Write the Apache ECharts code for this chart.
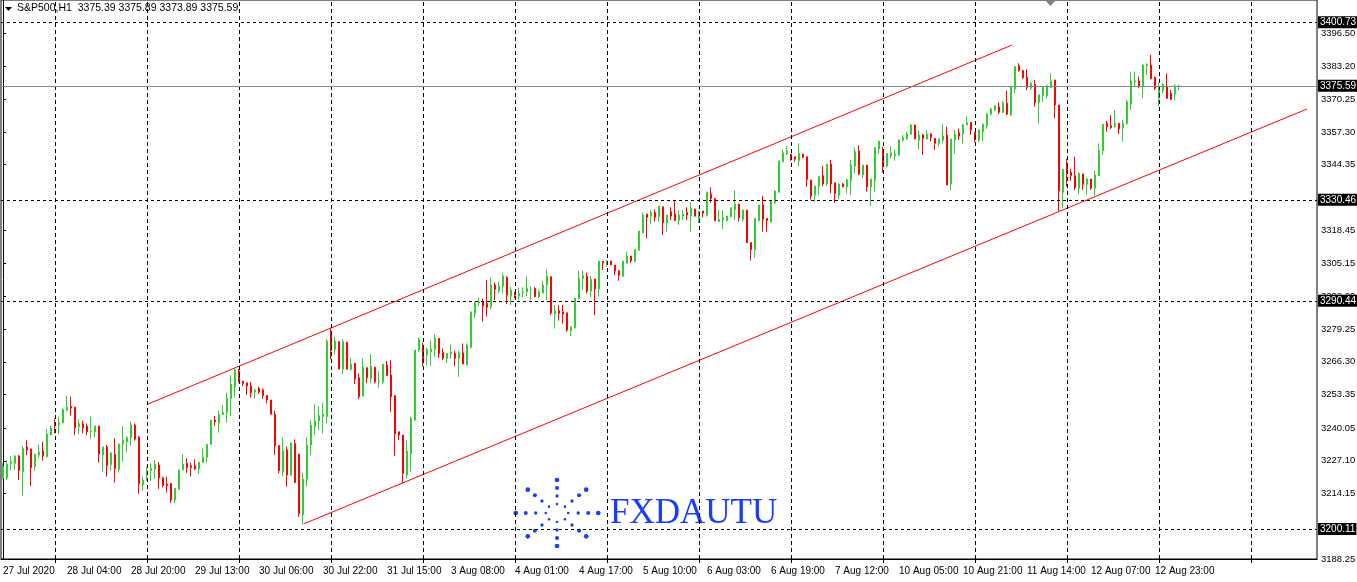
<!DOCTYPE html>
<html><head><meta charset="utf-8">
<script src="https://cdn.jsdelivr.net/npm/echarts@6/dist/echarts.min.js"></script>
<style>html,body{margin:0;padding:0;background:#fff}#c{width:1357px;height:582px}</style>
</head><body><div id="c"></div>
<script>
const tickLabels = ['27 Jul 2020','28 Jul 04:00','28 Jul 20:00','29 Jul 13:00','30 Jul 06:00','30 Jul 22:00','31 Jul 15:00','3 Aug 08:00','4 Aug 01:00','4 Aug 17:00','5 Aug 10:00','6 Aug 03:00','6 Aug 19:00','7 Aug 12:00','10 Aug 05:00','10 Aug 21:00','11 Aug 14:00','12 Aug 07:00','12 Aug 23:00'];

const opens = [
3220.2,3220.4,3226.1,3226.1,3229.0,3222.8,3232.6,3231.8,3224.8,3229.4,
3231.0,3228.7,3237.3,3242.2,3241.3,3242.2,3247.0,3248.6,3248.4,3240.6,
3241.8,3240.9,3238.6,3238.6,3240.9,3229.4,3232.6,3225.6,3229.8,3223.7,
3233.8,3234.7,3236.3,3241.3,3236.5,3217.7,3222.3,3223.2,3223.7,3225.5,
3220.4,3217.9,3218.1,3211.6,3215.8,3223.5,3226.1,3225.2,3225.1,3223.9,
3226.4,3228.5,3233.6,3243.3,3242.2,3245.5,3246.2,3251.7,3256.5,3262.7,
3258.7,3258.0,3256.7,3254.5,3255.7,3255.2,3253.0,3251.2,3245.6,3233.2,
3222.8,3231.4,3221.5,3234.0,3229.8,3205.7,3219.9,3233.4,3240.6,3242.9,
3244.6,3244.7,3277.8,3271.2,3274.3,3263.4,3274.1,3263.4,3265.7,3260.0,
3252.7,3264.0,3259.7,3264.1,3258.4,3258.4,3265.0,3261.1,3252.9,3238.6,
3237.3,3221.5,3229.8,3243.2,3271.0,3272.9,3269.0,3270.3,3271.2,3275.6,
3270.0,3267.7,3269.6,3269.6,3267.7,3269.9,3265.0,3272.0,3285.5,3289.8,
3290.1,3289.4,3288.1,3296.7,3294.3,3296.3,3299.7,3292.3,3293.8,3292.3,
3293.6,3294.0,3295.0,3295.4,3292.1,3293.6,3296.7,3300.0,3285.2,3286.5,
3286.1,3285.7,3278.6,3279.8,3291.4,3299.3,3300.2,3294.3,3299.1,3295.1,
3306.2,3305.8,3306.2,3304.6,3302.4,3300.2,3305.3,3308.2,3306.2,3310.5,
3317.4,3324.8,3324.0,3325.4,3323.8,3327.7,3321.4,3325.7,3324.8,3322.4,
3324.0,3325.4,3324.0,3326.8,3321.4,3326.0,3324.4,3332.7,3331.0,3321.8,
3322.4,3322.2,3323.8,3326.4,3328.8,3322.7,3326.4,3313.5,3310.8,3322.2,
3328.4,3323.1,3321.8,3329.3,3333.4,3345.5,3348.6,3348.6,3347.5,3345.9,
3348.6,3347.5,3338.3,3332.3,3335.9,3340.0,3336.7,3344.6,3337.2,3332.3,
3336.7,3335.6,3338.0,3343.8,3349.8,3340.3,3344.2,3335.6,3338.0,3350.6,
3349.5,3343.8,3347.9,3347.9,3348.2,3354.1,3354.5,3356.4,3360.1,3354.1,
3356.1,3354.5,3356.5,3354.8,3352.8,3354.1,3356.1,3336.7,3354.1,3357.0,
3356.5,3360.1,3361.1,3357.2,3354.1,3357.4,3359.7,3364.3,3366.0,3367.3,
3365.1,3368.7,3364.0,3374.3,3383.6,3381.6,3379.0,3374.6,3376.2,3369.1,
3371.7,3371.7,3374.9,3377.9,3368.0,3333.4,3344.5,3341.3,3340.0,3335.0,
3340.7,3336.6,3338.7,3335.0,3340.0,3349.9,3360.7,3359.8,3359.4,3360.7,
3358.8,3360.7,3368.4,3377.2,3377.5,3375.5,3383.5,3383.8,3378.8,3370.6,
3373.9,3375.5,3372.6,3372.3,3375.39];

const closes = [
3224.9,3225.8,3226.8,3229.0,3223.2,3232.0,3231.4,3224.4,3229.8,3230.6,
3229.1,3237.7,3240.2,3241.3,3242.1,3247.4,3248.3,3248.0,3240.2,3241.8,
3240.2,3238.6,3238.9,3240.9,3229.8,3232.6,3225.2,3230.2,3224.0,3233.8,
3235.3,3236.3,3241.3,3235.7,3218.1,3219.5,3223.1,3224.1,3225.8,3220.4,
3217.3,3217.3,3211.6,3216.2,3223.5,3225.8,3224.5,3224.4,3223.9,3226.5,
3228.6,3233.6,3243.3,3242.6,3245.5,3246.2,3251.8,3257.5,3263.1,3258.4,
3257.8,3256.7,3254.1,3255.2,3254.4,3252.9,3251.2,3245.6,3233.0,3223.2,
3231.0,3221.5,3234.2,3218.5,3206.3,3219.9,3233.4,3241.3,3242.9,3245.0,
3245.5,3274.5,3270.7,3274.5,3263.4,3274.3,3263.4,3265.4,3259.5,3252.5,
3264.2,3260.0,3264.6,3258.4,3258.7,3265.4,3260.8,3252.5,3237.7,3237.3,
3222.1,3231.0,3243.9,3271.0,3275.3,3267.0,3271.2,3271.4,3275.6,3269.6,
3267.7,3269.6,3270.2,3267.7,3269.9,3265.4,3272.9,3286.1,3289.7,3290.1,
3288.4,3287.9,3296.7,3295.0,3296.3,3300.2,3292.7,3294.7,3292.7,3293.4,
3294.0,3295.4,3295.1,3292.1,3294.0,3296.7,3300.2,3285.7,3286.5,3285.5,
3285.2,3278.9,3280.2,3291.4,3299.3,3300.4,3294.3,3298.9,3295.1,3306.2,
3305.5,3306.1,3304.7,3302.2,3300.6,3306.2,3308.2,3306.3,3310.8,3318.1,
3324.4,3323.5,3325.4,3323.5,3328.0,3321.4,3324.4,3324.0,3322.2,3324.4,
3324.8,3324.4,3327.1,3324.0,3326.0,3325.1,3333.3,3331.0,3322.2,3322.7,
3323.5,3324.0,3327.3,3328.8,3323.4,3326.4,3313.5,3310.8,3323.1,3328.4,
3322.7,3322.2,3330.0,3333.9,3345.9,3349.1,3349.8,3347.3,3346.5,3348.8,
3347.3,3338.5,3331.9,3335.9,3339.6,3336.7,3344.6,3336.7,3333.0,3336.7,
3335.6,3338.3,3344.2,3349.5,3340.7,3344.2,3335.6,3338.7,3351.2,3353.7,
3343.6,3348.8,3349.1,3348.6,3354.1,3355.0,3356.5,3360.1,3354.5,3356.1,
3354.8,3356.5,3355.2,3352.8,3354.4,3355.7,3336.3,3354.5,3356.5,3355.7,
3360.1,3361.0,3358.1,3354.1,3358.1,3360.3,3364.3,3366.4,3367.6,3365.1,
3368.9,3364.4,3375.3,3383.2,3381.6,3378.8,3374.9,3376.6,3368.9,3372.0,
3375.3,3375.6,3377.5,3368.0,3333.9,3342.5,3340.9,3340.0,3335.3,3340.9,
3336.6,3338.7,3335.0,3340.3,3349.9,3360.3,3359.4,3359.0,3360.7,3358.5,
3360.7,3369.3,3377.5,3377.6,3375.5,3383.8,3384.1,3378.5,3374.6,3374.6,
3376.2,3370.6,3370.2,3375.5,3375.59];

const lows = [
3219.8,3219.5,3223.2,3223.5,3219.5,3213.3,3229.4,3217.1,3223.2,3228.5,
3227.2,3228.7,3237.3,3238.0,3237.7,3241.9,3247.0,3245.0,3237.3,3237.6,
3238.0,3237.3,3235.7,3236.4,3226.4,3222.8,3220.8,3223.2,3218.5,3222.5,
3226.8,3230.7,3233.1,3235.1,3214.0,3215.3,3219.2,3219.2,3219.9,3216.0,
3216.6,3214.5,3210.5,3210.3,3215.6,3223.5,3222.4,3220.9,3223.5,3221.9,
3226.4,3226.4,3233.6,3240.9,3238.3,3245.3,3242.2,3244.9,3252.2,3258.0,
3256.7,3253.2,3252.2,3251.8,3253.6,3251.6,3249.9,3245.6,3229.4,3222.2,
3221.1,3216.9,3221.1,3218.5,3205.0,3202.1,3216.9,3229.4,3237.4,3239.3,
3238.0,3242.0,3267.3,3269.4,3263.4,3261.5,3263.4,3262.8,3257.5,3251.6,
3252.7,3257.8,3257.8,3257.8,3255.8,3257.5,3260.7,3246.5,3229.0,3235.3,
3218.2,3220.1,3222.8,3243.2,3270.3,3264.6,3265.0,3264.6,3268.3,3267.9,
3267.0,3265.9,3267.5,3264.6,3260.4,3265.4,3265.0,3271.6,3283.8,3288.4,
3282.2,3284.2,3287.0,3290.7,3293.4,3293.4,3289.2,3288.8,3291.4,3290.7,
3291.8,3292.3,3290.7,3291.8,3291.4,3293.4,3290.7,3284.8,3279.5,3282.6,
3281.5,3278.2,3276.5,3279.5,3291.0,3294.7,3293.4,3291.8,3284.8,3292.1,
3302.6,3303.9,3304.6,3300.6,3298.4,3300.0,3305.3,3305.5,3305.7,3310.3,
3317.4,3315.2,3320.7,3321.8,3321.8,3316.5,3317.8,3322.4,3322.2,3320.5,
3322.4,3322.4,3317.8,3323.8,3321.4,3323.5,3323.8,3329.3,3322.2,3321.8,
3318.8,3321.8,3323.5,3322.4,3321.8,3321.8,3313.5,3306.4,3307.5,3321.8,
3317.8,3317.8,3321.4,3329.0,3333.4,3345.5,3348.2,3345.9,3345.5,3343.8,
3346.9,3335.6,3330.6,3329.7,3332.3,3335.9,3335.9,3333.0,3329.3,3330.6,
3335.4,3333.0,3332.3,3340.9,3340.3,3338.9,3333.7,3328.1,3333.7,3348.6,
3341.2,3343.3,3346.9,3345.9,3347.9,3353.5,3354.4,3356.4,3354.5,3350.4,
3348.2,3354.4,3353.5,3350.2,3351.5,3352.8,3336.3,3334.3,3348.8,3354.1,
3352.8,3360.1,3356.1,3353.2,3353.2,3353.7,3358.5,3363.8,3365.6,3364.3,
3364.7,3364.0,3363.8,3372.6,3381.2,3378.3,3373.9,3373.9,3367.3,3360.5,
3369.1,3370.6,3374.6,3362.7,3325.8,3327.1,3335.7,3337.9,3334.3,3332.6,
3334.3,3332.4,3334.3,3332.1,3340.0,3348.2,3357.4,3358.5,3359.0,3356.4,
3353.5,3360.1,3366.0,3375.2,3374.6,3370.6,3379.8,3378.1,3373.9,3367.3,
3372.6,3370.6,3369.9,3369.7,3373.89];

const highs = [
3226.1,3227.4,3229.0,3229.4,3229.4,3233.0,3235.3,3232.0,3229.8,3233.4,
3234.7,3239.7,3241.0,3243.9,3244.6,3247.9,3252.8,3252.5,3248.4,3243.5,
3243.0,3241.9,3244.6,3240.9,3240.9,3232.6,3233.4,3230.7,3236.0,3233.8,
3240.9,3236.9,3242.6,3241.9,3236.9,3220.8,3224.9,3226.1,3227.4,3226.6,
3220.8,3220.8,3218.1,3216.2,3223.7,3229.8,3228.1,3226.4,3227.7,3226.8,
3232.0,3233.6,3243.3,3244.9,3247.0,3249.2,3254.1,3261.1,3263.7,3263.5,
3258.7,3258.0,3258.4,3255.5,3256.5,3255.7,3253.0,3251.2,3247.0,3233.2,
3236.3,3232.7,3234.4,3235.6,3229.8,3222.3,3236.4,3243.3,3249.6,3248.8,
3250.1,3275.3,3279.5,3276.2,3274.3,3275.2,3274.1,3267.7,3265.7,3261.7,
3267.7,3264.0,3269.4,3264.4,3262.6,3265.4,3266.7,3267.0,3253.1,3238.6,
3237.3,3235.3,3244.6,3271.0,3276.0,3273.9,3272.0,3274.9,3277.3,3275.6,
3271.6,3269.6,3273.2,3270.7,3270.7,3273.6,3273.6,3286.1,3290.1,3291.8,
3291.4,3298.7,3299.7,3297.6,3298.0,3301.3,3300.2,3296.0,3294.0,3295.8,
3295.8,3300.2,3296.3,3295.8,3295.0,3298.4,3302.9,3300.0,3288.8,3288.8,
3288.8,3285.7,3280.2,3291.8,3302.4,3302.4,3301.6,3300.2,3299.1,3306.2,
3306.2,3306.6,3306.2,3304.6,3302.4,3306.2,3309.9,3308.2,3310.8,3318.1,
3325.5,3324.8,3326.4,3326.7,3328.0,3327.7,3324.4,3327.5,3330.4,3326.4,
3326.4,3327.5,3329.3,3326.8,3326.0,3326.0,3333.7,3335.4,3331.0,3326.4,
3326.4,3324.0,3327.3,3334.3,3328.8,3326.4,3326.4,3313.5,3323.1,3328.4,
3332.0,3323.1,3330.0,3334.3,3345.9,3350.4,3351.7,3348.6,3347.5,3352.8,
3348.6,3347.5,3338.3,3335.9,3339.9,3343.8,3344.6,3346.2,3337.2,3337.0,
3337.0,3338.9,3346.2,3351.2,3352.1,3344.2,3344.2,3338.7,3351.2,3353.7,
3351.5,3348.8,3351.7,3350.4,3354.4,3356.1,3357.4,3360.5,3360.1,3358.1,
3356.5,3358.1,3356.8,3354.8,3354.8,3360.5,3359.4,3354.5,3358.1,3358.7,
3360.5,3363.4,3361.1,3357.2,3358.5,3360.7,3364.7,3366.9,3368.0,3369.1,
3369.6,3373.7,3375.3,3383.2,3384.5,3381.8,3382.2,3377.2,3377.9,3372.2,
3375.3,3375.9,3380.5,3377.9,3368.0,3342.5,3346.6,3342.7,3347.5,3341.3,
3340.7,3339.0,3338.7,3341.9,3352.8,3360.3,3361.7,3364.0,3366.0,3360.7,
3362.1,3370.0,3381.2,3381.2,3379.2,3384.2,3384.5,3387.8,3379.2,3376.6,
3376.6,3380.5,3373.9,3376.2,3375.89];

const axisPrices = [3188.25,3214.15,3227.10,3240.05,3253.35,3266.30,3279.25,3292.20,3305.15,3318.45,3344.35,3357.30,3370.25,3383.20,3396.50];
const levelPrices = [3400.73, 3330.46, 3290.44, 3200.11];
const bidPrice = 3375.59;
const upperChannel = [[36.1, 3249.5], [252.2, 3391.7]];
const lowerChannel = [[75.1, 3202.1], [326.0, 3366.4]];
const headerText = 'S&P500,H1  3375.39 3375.89 3373.89 3375.59';
const watermark = 'FXDAUTU';

const N = 329;
const F = '"Liberation Sans", Arial, sans-serif';
const cats = Array.from({length: N}, (_, i) => String(i));
const candles = opens.map((o, i) => [o, closes[i], lows[i], highs[i]]);
const gridBars = [];
for (let b = 13; b < N; b += 23) gridBars.push(b);

const boxLabel = {
  show: true, position: 'end', distance: 1,
  formatter: p => Number(p.value).toFixed(2),
  backgroundColor: '#000', color: '#fff', padding: [1, 1, 1, 2],
  fontFamily: F, fontSize: 10
};
const markData = [];
gridBars.forEach(b => markData.push({xAxis: b, lineStyle: {color: '#000', type: [4, 3], width: 1}, label: {show: false}}));
levelPrices.forEach(v => markData.push({yAxis: v, lineStyle: {color: '#000', type: [3, 3], width: 1}, label: boxLabel}));
markData.push({yAxis: bidPrice, lineStyle: {color: '#778899', type: 'solid', width: 1}, label: boxLabel});

// logo dots
const logo = [];
const cx = 557, cy = 513;
for (let k = 0; k < 8; k++) {
  const a = k * Math.PI / 4;
  [9, 17, 25, 33].forEach((r, j) => {
    logo.push({type: 'circle', shape: {cx: cx + Math.cos(a) * r * 1.25, cy: cy + Math.sin(a) * r, r: 1.3 + j * 0.35}, style: {fill: '#1a3cff'}, silent: true});
  });
}

const chart = echarts.init(document.getElementById('c'));
chart.setOption({
  animation: false,
  backgroundColor: '#fff',
  grid: {left: 1, right: 40, top: 0, bottom: 23, show: true, borderColor: '#000', borderWidth: 1, containLabel: false, outerBoundsMode: 'none'},
  xAxis: [{
    type: 'category', data: cats, boundaryGap: true,
    axisLine: {show: true, lineStyle: {color: '#000'}},
    axisTick: {show: true, alignWithLabel: true, interval: (i) => i >= 13 && (i - 13) % 23 === 0, length: 4, lineStyle: {color: '#000'}},
    axisLabel: {interval: (i) => i % 16 === 0 && i / 16 < tickLabels.length, formatter: (v, i) => tickLabels[i / 16] || '', align: 'left', fontFamily: F, fontSize: 10, color: '#000', margin: 7},
    splitLine: {show: false}
  }, {type: 'value', min: -0.5, max: N - 0.5, show: false}],
  yAxis: {
    type: 'value', position: 'right', min: 3188.25, max: 3409.55, z: 0,
    axisLine: {show: true, lineStyle: {color: '#000'}},
    axisTick: {show: true, customValues: axisPrices, length: 3, lineStyle: {color: '#000'}},
    axisLabel: {customValues: axisPrices, formatter: v => v.toFixed(2), fontFamily: F, fontSize: 9.5, color: '#000', margin: 4},
    splitLine: {show: false}
  },
  series: [{
    type: 'candlestick', data: candles, barWidth: 2, z: 3,
    itemStyle: {color: '#32CD32', color0: '#FF0000', borderColor: '#32CD32', borderColor0: '#FF0000', borderWidth: 1},
    markLine: {symbol: 'none', silent: true, animation: false, z: 10, data: markData}
  }, {
    type: 'line', xAxisIndex: 1, data: upperChannel, symbol: 'none', silent: true,
    lineStyle: {color: '#FF0000', width: 1}
  }, {
    type: 'line', xAxisIndex: 1, data: lowerChannel, symbol: 'none', silent: true,
    lineStyle: {color: '#FF0000', width: 1}
  }],
  graphic: [
    {type: 'polygon', shape: {points: [[5, 7], [12, 7], [8.5, 11]]}, style: {fill: '#000'}, silent: true},
    {type: 'text', left: 17, top: 3, style: {text: headerText, font: '10.5px ' + F, fill: '#000'}, silent: true},
    {type: 'polygon', shape: {points: [[1045, 0], [1056, 0], [1050.5, 6]]}, style: {fill: '#808080'}, silent: true},
    {type: 'text', left: 610, top: 496, style: {text: watermark, font: '35px "Liberation Serif", "Times New Roman", serif', fill: '#1a3cff'}, silent: true},
    {type: 'group', children: logo, silent: true}
  ]
});
</script></body></html>
